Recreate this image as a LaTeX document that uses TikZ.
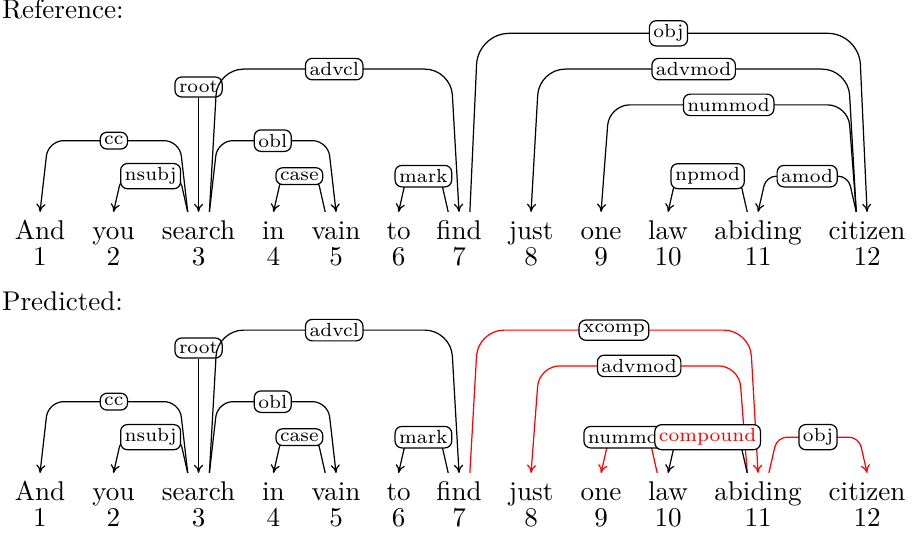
\documentclass[tikz,border=0pt]{standalone}
\usepackage{tikz}
\usetikzlibrary{arrows, arrows.meta, calc, positioning}

\tikzset{
	word/.style={anchor=base, inner sep=3pt, text height=6.8pt, text depth=1.9pt},
	num/.style={anchor=base, inner sep=1pt},
	lab/.style={draw=black, text=black, fill=white, rounded corners=2.5pt, inner sep=1.5pt, line width=0.45pt, font=\scriptsize},
	dep/.style={->, line width=0.45pt, rounded corners=#1},
	dep/.default=5pt
}

\begin{document}
\begin{tikzpicture}[>={To[length=3pt,width=3.4pt]}]
		\useasboundingbox (0,0) rectangle (11.97,7.069);
		\node[anchor=base west, inner sep=0] (rtitle) at (0.02,6.829) {Reference:};
		\node[anchor=base west, inner sep=0] (ptitle) at (0.02,3.048) {Predicted:};
		% words and positions
		\foreach \x/\w [count=\i] in {0.519/And, 1.472/you, 2.575/search, 3.547/in, 4.358/vain, 5.169/to, 5.953/find, 6.887/just, 7.795/one, 8.664/law, 9.831/abiding, 11.245/citizen} {
			\node[word] (r\i) at (\x,3.969) {\w}; \node[num] (rn\i) at (\x,3.632) {\i};
			\node[word] (p\i) at (\x,0.584) {\w}; \node[num] (pn\i) at (\x,0.246) {\i};
		}
		% reference tree
		\node[lab] (rroot) at ([yshift=46.1pt]r3.north) {root}; \draw[dep=0pt] (rroot) -- (r3.north);
		\draw[dep=5.7pt] ([xshift=-4pt]r3.north) -- ++(-3pt,26.3pt) -- ([shift={(3pt,26.3pt)}]r1.north) node[lab,midway] (rcc) {cc} -- (r1.north);
		\draw[dep=3.7pt] ([xshift=-4pt]r3.north) -- ++(-3pt,13.2pt) -- ([shift={(3pt,13.2pt)}]r2.north) node[lab,midway] (rnsubj) {nsubj} -- (r2.north);
		\draw[dep=5.7pt] ([xshift=4pt]r3.north) -- ++(3pt,26.3pt) -- ([shift={(-3pt,26.3pt)}]r5.north) node[lab,midway] (robl) {obl} -- (r5.north);
		\draw[dep=3.7pt] ([xshift=-4pt]r5.north) -- ++(-3pt,13.2pt) -- ([shift={(3pt,13.2pt)}]r4.north) node[lab,midway] (rcase) {case} -- (r4.north);
		\draw[dep=9.6pt] ([xshift=4pt]r3.north) -- ++(3pt,52.7pt) -- ([shift={(-3pt,52.7pt)}]r7.north) node[lab,midway] (radvcl) {advcl} -- (r7.north);
		\draw[dep=3.7pt] ([xshift=-4pt]r7.north) -- ++(-3pt,13.2pt) -- ([shift={(3pt,13.2pt)}]r6.north) node[lab,midway] (rmark) {mark} -- (r6.north);
		\draw[dep=11.5pt] ([xshift=4pt]r7.north) -- ++(3pt,65.9pt) -- ([shift={(-3pt,65.9pt)}]r12.north) node[lab,midway] (robj) {obj} -- (r12.north);
		\draw[dep=9.6pt] ([xshift=-4pt]r12.north) -- ++(-3pt,52.7pt) -- ([shift={(3pt,52.7pt)}]r8.north) node[lab,midway] (radvmod) {advmod} -- (r8.north);
		\draw[dep=7.6pt] ([xshift=-4pt]r12.north) -- ++(-3pt,39.5pt) -- ([shift={(3pt,39.5pt)}]r9.north) node[lab,midway] (rnummod) {nummod} -- (r9.north);
		\draw[dep=3.7pt] ([xshift=-4pt]r11.north) -- ++(-3pt,13.2pt) -- ([shift={(3pt,13.2pt)}]r10.north) node[lab,midway] (rnpmod) {npmod} -- (r10.north);
		\draw[dep=3.7pt] ([xshift=-4pt]r12.north) -- ++(-3pt,13.2pt) -- ([shift={(3pt,13.2pt)}]r11.north) node[lab,midway] (ramod) {amod} -- (r11.north);
		% predicted tree
		\node[lab] (proot) at ([yshift=46.1pt]p3.north) {root}; \draw[dep=0pt] (proot) -- (p3.north);
		\draw[dep=5.7pt] ([xshift=-4pt]p3.north) -- ++(-3pt,26.3pt) -- ([shift={(3pt,26.3pt)}]p1.north) node[lab,midway] (pcc) {cc} -- (p1.north);
		\draw[dep=3.7pt] ([xshift=-4pt]p3.north) -- ++(-3pt,13.2pt) -- ([shift={(3pt,13.2pt)}]p2.north) node[lab,midway] (pnsubj) {nsubj} -- (p2.north);
		\draw[dep=5.7pt] ([xshift=4pt]p3.north) -- ++(3pt,26.3pt) -- ([shift={(-3pt,26.3pt)}]p5.north) node[lab,midway] (pobl) {obl} -- (p5.north);
		\draw[dep=3.7pt] ([xshift=-4pt]p5.north) -- ++(-3pt,13.2pt) -- ([shift={(3pt,13.2pt)}]p4.north) node[lab,midway] (pcase) {case} -- (p4.north);
		\draw[dep=9.6pt] ([xshift=4pt]p3.north) -- ++(3pt,52.7pt) -- ([shift={(-3pt,52.7pt)}]p7.north) node[lab,midway] (padvcl) {advcl} -- (p7.north);
		\draw[dep=3.7pt] ([xshift=-4pt]p7.north) -- ++(-3pt,13.2pt) -- ([shift={(3pt,13.2pt)}]p6.north) node[lab,midway] (pmark) {mark} -- (p6.north);
		\draw[dep=9.6pt, red] ([xshift=4pt]p7.north) -- ++(3pt,52.7pt) -- ([shift={(-3pt,52.7pt)}]p11.north) node[lab,midway] (pxcomp) {xcomp} -- (p11.north);
		\draw[dep=7.6pt, red] ([xshift=-4pt]p11.north) -- ++(-3pt,39.5pt) -- ([shift={(3pt,39.5pt)}]p8.north) node[lab,midway] (padvmod) {advmod} -- (p8.north);
		\draw[dep=3.7pt, red] ([xshift=-4pt]p10.north) -- ++(-3pt,13.2pt) -- ([shift={(3pt,13.2pt)}]p9.north) node[lab,midway] (pnummod) {nummod} -- (p9.north);
		\draw[dep=3.7pt] ([xshift=-4pt]p11.north) -- ++(-3pt,13.2pt) -- ([shift={(3pt,13.2pt)}]p10.north) node[lab,midway,text=red] (pcompound) {compound} -- (p10.north);
		\draw[dep=3.7pt, red] ([xshift=4pt]p11.north) -- ++(3pt,13.2pt) -- ([shift={(-3pt,13.2pt)}]p12.north) node[lab,midway] (pobj) {obj} -- (p12.north);
	\end{tikzpicture}
\end{document}
